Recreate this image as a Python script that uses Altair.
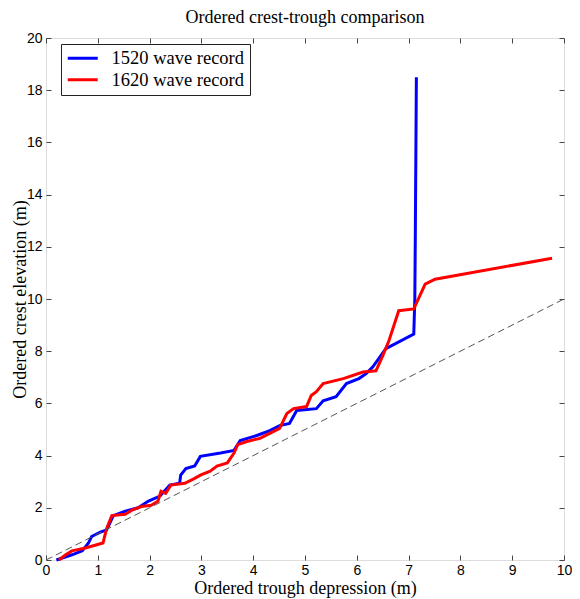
import altair as alt
import pandas as pd

# ---- data ----
series_names = ["1520 wave record", "1620 wave record"]

blue_x = [0.2, 0.5, 0.7, 0.82, 0.88, 1.05, 1.17, 1.3, 1.53, 1.78, 1.97, 2.2, 2.39, 2.58, 2.6,
          2.7, 2.87, 2.98, 3.37, 3.63, 3.75, 4.07, 4.32, 4.51, 4.7, 4.84, 5.22, 5.35, 5.6,
          5.8, 6.04, 6.18, 6.31, 6.56, 7.1, 7.12, 7.13, 7.14, 7.15]
blue_y = [0.0, 0.2, 0.35, 0.65, 0.9, 1.07, 1.15, 1.7, 1.87, 2.0, 2.25, 2.45, 2.87, 2.94, 3.25,
          3.5, 3.6, 3.97, 4.1, 4.2, 4.58, 4.77, 4.96, 5.15, 5.23, 5.73, 5.8, 6.1, 6.26,
          6.76, 6.95, 7.14, 7.4, 8.1, 8.66, 10.0, 12.5, 15.5, 18.5]

red_x = [0.25, 0.38, 0.5, 0.76, 1.1, 1.17, 1.27, 1.53, 1.65, 1.84, 2.03, 2.16, 2.22, 2.31, 2.41,
         2.68, 2.87, 2.98, 3.17, 3.3, 3.5, 3.63, 3.7, 3.88, 4.13, 4.32, 4.51, 4.65, 4.78, 5.03,
         5.12, 5.22, 5.35, 5.74, 6.12, 6.37, 6.5, 6.62, 6.81, 7.1, 7.32, 7.51, 9.77]
red_y = [0.0, 0.2, 0.35, 0.46, 0.65, 1.2, 1.7, 1.75, 1.9, 2.05, 2.1, 2.25, 2.63, 2.55, 2.87,
         2.94, 3.13, 3.25, 3.4, 3.6, 3.72, 4.1, 4.42, 4.54, 4.66, 4.85, 5.04, 5.61, 5.8, 5.88,
         6.3, 6.45, 6.76, 6.95, 7.2, 7.25, 7.82, 8.4, 9.55, 9.62, 10.57, 10.76, 11.56]

diag_x = [0, 10]
diag_y = [0, 10]

x_ticks = list(range(0, 11))
y_ticks = list(range(0, 21, 2))

rows = []
for i, (x, y) in enumerate(zip(blue_x, blue_y)):
    rows.append({"x": x, "y": y, "series": series_names[0], "i": i})
for i, (x, y) in enumerate(zip(red_x, red_y)):
    rows.append({"x": x, "y": y, "series": series_names[1], "i": i})
df = pd.DataFrame(rows)
ddf = pd.DataFrame({"x": diag_x, "y": diag_y})

W, H = 518, 522
SERIF = "Liberation Serif"
SANS = "Liberation Sans"


def xsc():
    return alt.Scale(domain=[0, 10], nice=False, zero=False)


def ysc():
    return alt.Scale(domain=[0, 20], nice=False, zero=False)


main = alt.Chart(df).mark_line(strokeWidth=3).encode(
    x=alt.X("x:Q", scale=xsc(), axis=alt.Axis(
        orient="bottom", values=x_ticks, ticks=False, domain=False, grid=False,
        labelFont=SANS, labelFontSize=14, labelColor="#000", labelPadding=3, labelFlush=False,
        title="Ordered trough depression (m)", titleFont=SERIF, titleFontSize=18,
        titleFontWeight="normal", titleColor="#000",
        titleX=W / 2, titleY=28, titleBaseline="middle", titleAlign="center")),
    y=alt.Y("y:Q", scale=ysc(), axis=alt.Axis(
        orient="left", values=y_ticks, ticks=False, domain=False, grid=False,
        labelFont=SANS, labelFontSize=14, labelColor="#000", labelPadding=4, labelFlush=False,
        title="Ordered crest elevation (m)", titleFont=SERIF, titleFontSize=18,
        titleFontWeight="normal", titleColor="#000",
        titleX=-26, titleY=H / 2, titleBaseline="middle", titleAlign="center", titleAngle=270)),
    color=alt.Color("series:N", scale=alt.Scale(domain=series_names, range=["#0000ff", "#ff0000"]),
                    legend=alt.Legend(
                        title=None, orient="none", legendX=15, legendY=6,
                        fillColor="white", strokeColor="#222", padding=5,
                        symbolType="M-1,0H3", symbolSize=225, symbolStrokeWidth=3,
                        labelFont=SERIF, labelFontSize=18.5, labelColor="#000",
                        labelOffset=27, rowPadding=2.5, labelLimit=300)),
    order=alt.Order("i:Q"),
)

tick_kw = dict(labels=False, ticks=True, tickSize=5, tickColor="#444", domain=False,
               grid=False, title="")

diag = alt.Chart(ddf).mark_line(color="#555", strokeDash=[7, 4], strokeWidth=1).encode(
    x=alt.X("x:Q", scale=xsc(), axis=alt.Axis(orient="top", offset=-H, values=x_ticks, **tick_kw)),
    y=alt.Y("y:Q", scale=ysc(), axis=alt.Axis(orient="right", offset=-W, values=y_ticks, **tick_kw)),
)

diag2 = alt.Chart(ddf).mark_line(opacity=0).encode(
    x=alt.X("x:Q", scale=xsc(), axis=alt.Axis(orient="bottom", offset=-H, values=x_ticks, **tick_kw)),
    y=alt.Y("y:Q", scale=ysc(), axis=alt.Axis(orient="left", offset=-W, values=y_ticks, **tick_kw)),
)

chart = alt.layer(main, diag, diag2).resolve_scale(
    x="independent", y="independent"
).properties(
    width=W, height=H,
    title=alt.Title("Ordered crest-trough comparison", font=SERIF, fontSize=18,
                    fontWeight="normal", color="#000", offset=4, anchor="middle"),
    autosize=alt.AutoSizeParams(type="none"),
    padding={"left": 38, "top": 30, "right": 8, "bottom": 38},
).configure_view(stroke="#333", strokeWidth=1).configure(background="white")

chart.save("out.html", embed_options={"renderer": "svg", "actions": False})
